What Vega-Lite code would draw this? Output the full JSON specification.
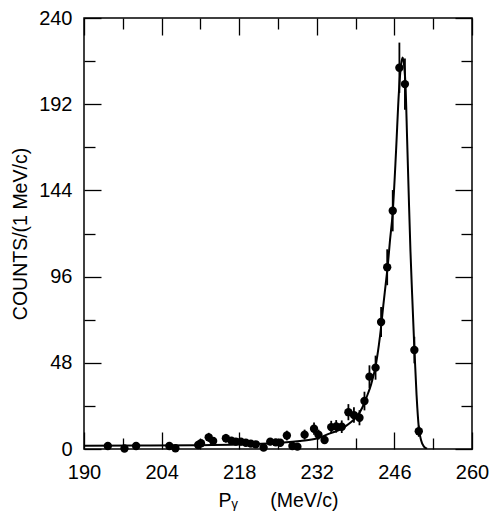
{
  "$schema": "https://vega.github.io/schema/vega-lite/v6.json",
  "width": 388,
  "height": 431,
  "autosize": {"type": "none"},
  "padding": {"left": 84, "top": 18, "right": 23, "bottom": 67},
  "background": "white",
  "config": {
    "view": {"stroke": "#000", "strokeWidth": 1.5},
    "font": "Liberation Sans",
    "axis": {
      "domain": false, "grid": false, "tickColor": "#000", "tickWidth": 1.3,
      "labelColor": "#000", "titleColor": "#000", "labelFont": "Liberation Sans",
      "titleFont": "Liberation Sans", "labelFontSize": 20, "titleFontSize": 19.5,
      "titleFontWeight": "normal"
    }
  },
  "datasets": {
    "pts": [
      {"p": 194.3, "n": 1.7, "err": 1.3}, {"p": 197.3, "n": 0.3, "err": 0.6},
      {"p": 199.4, "n": 1.7, "err": 1.3}, {"p": 205.4, "n": 1.7, "err": 1.3},
      {"p": 206.5, "n": 0.4, "err": 0.6}, {"p": 210.6, "n": 2.2, "err": 1.5},
      {"p": 211.1, "n": 3.2, "err": 1.8}, {"p": 212.5, "n": 6.5, "err": 2.5},
      {"p": 213.3, "n": 4.5, "err": 2.1}, {"p": 215.6, "n": 6.0, "err": 2.4},
      {"p": 216.6, "n": 4.6, "err": 2.1}, {"p": 217.4, "n": 4.1, "err": 2.0},
      {"p": 218.3, "n": 4.1, "err": 2.0}, {"p": 219.2, "n": 3.5, "err": 1.9},
      {"p": 220.1, "n": 3.0, "err": 1.7}, {"p": 221.0, "n": 2.6, "err": 1.6},
      {"p": 222.4, "n": 0.8, "err": 0.9}, {"p": 223.6, "n": 4.1, "err": 2.0},
      {"p": 224.6, "n": 3.7, "err": 1.9}, {"p": 225.4, "n": 3.5, "err": 1.9},
      {"p": 226.6, "n": 7.5, "err": 2.7}, {"p": 227.6, "n": 1.7, "err": 1.3},
      {"p": 228.5, "n": 1.3, "err": 1.1}, {"p": 229.8, "n": 8.0, "err": 2.8},
      {"p": 231.5, "n": 11.3, "err": 3.4}, {"p": 232.3, "n": 8.0, "err": 2.8},
      {"p": 233.4, "n": 5.0, "err": 2.2}, {"p": 234.6, "n": 12.2, "err": 3.5},
      {"p": 235.5, "n": 12.6, "err": 3.5}, {"p": 236.5, "n": 12.4, "err": 3.5},
      {"p": 237.7, "n": 20.5, "err": 4.5}, {"p": 238.7, "n": 18.9, "err": 4.3},
      {"p": 239.7, "n": 17.4, "err": 4.2}, {"p": 240.6, "n": 26.7, "err": 5.2},
      {"p": 241.5, "n": 40.3, "err": 6.3}, {"p": 242.6, "n": 45.3, "err": 6.7},
      {"p": 243.6, "n": 70.7, "err": 8.4}, {"p": 244.7, "n": 101.2, "err": 10.0},
      {"p": 245.7, "n": 132.7, "err": 11.5}, {"p": 246.9, "n": 212.3, "err": 14.0},
      {"p": 247.9, "n": 203.2, "err": 14.3}, {"p": 249.6, "n": 55.1, "err": 7.4},
      {"p": 250.4, "n": 9.9, "err": 3.1}
    ],
    "fit": [
      {"p": 190, "n": 1.8}, {"p": 200, "n": 1.9}, {"p": 210, "n": 2.1},
      {"p": 218, "n": 2.5}, {"p": 222, "n": 2.9}, {"p": 226, "n": 3.6},
      {"p": 229, "n": 4.5}, {"p": 232, "n": 5.8}, {"p": 234.4, "n": 8.7},
      {"p": 236, "n": 10.5}, {"p": 237.1, "n": 12.5}, {"p": 238.2, "n": 15},
      {"p": 239.2, "n": 18}, {"p": 240.2, "n": 23}, {"p": 241, "n": 29},
      {"p": 241.8, "n": 36}, {"p": 242.6, "n": 46}, {"p": 243.2, "n": 58},
      {"p": 243.6, "n": 68}, {"p": 244, "n": 80}, {"p": 244.4, "n": 91},
      {"p": 244.8, "n": 102}, {"p": 245.2, "n": 116}, {"p": 245.7, "n": 132},
      {"p": 246.3, "n": 166}, {"p": 246.8, "n": 198}, {"p": 247.2, "n": 214},
      {"p": 247.5, "n": 218}, {"p": 247.8, "n": 212}, {"p": 248.0, "n": 203},
      {"p": 248.3, "n": 172}, {"p": 248.6, "n": 140}, {"p": 248.9, "n": 110},
      {"p": 249.2, "n": 86}, {"p": 249.6, "n": 56}, {"p": 250.0, "n": 30},
      {"p": 250.4, "n": 12}, {"p": 250.8, "n": 5}, {"p": 251.3, "n": 1.5},
      {"p": 251.9, "n": 0.2}
    ]
  },
  "layer": [
    {
      "data": {"name": "fit"},
      "mark": {"type": "line", "color": "#000", "strokeWidth": 2, "interpolate": "monotone", "clip": true},
      "encoding": {
        "x": {"field": "p", "type": "quantitative", "scale": {"domain": [190, 260], "nice": false, "zero": false},
          "axis": {"orient": "bottom", "values": [190, 204, 218, 232, 246, 260], "ticks": false, "labelPadding": 13, "labelFlush": false, "title": "P\u1d67\u00a0\u00a0\u00a0\u00a0\u00a0\u00a0(MeV/c)", "titlePadding": 9}},
        "y": {"field": "n", "type": "quantitative", "scale": {"domain": [0, 240], "nice": false},
          "axis": {"orient": "left", "values": [0, 48, 96, 144, 192, 240], "ticks": false, "labelPadding": 12, "labelFlush": false, "title": "COUNTS/(1 MeV/c)", "titlePadding": 8}}
      }
    },
    {
      "data": {"name": "pts"},
      "mark": {"type": "errorbar", "color": "#000", "thickness": 1.8},
      "encoding": {
        "x": {"field": "p", "type": "quantitative",
          "axis": {"orient": "bottom", "values": [190, 204, 218, 232, 246, 260], "tickSize": -17, "labels": false, "title": null}},
        "y": {"field": "n", "type": "quantitative",
          "axis": {"orient": "left", "values": [0, 48, 96, 144, 192, 240], "tickSize": -17, "labels": false, "title": null}},
        "yError": {"field": "err"}
      }
    },
    {
      "data": {"name": "pts"},
      "mark": {"type": "point", "filled": true, "color": "#000", "opacity": 1, "size": 70},
      "encoding": {
        "x": {"field": "p", "type": "quantitative",
          "axis": {"orient": "bottom", "values": [197, 211, 225, 239, 253], "tickSize": -11, "labels": false, "title": null}},
        "y": {"field": "n", "type": "quantitative",
          "axis": {"orient": "left", "values": [24, 72, 120, 168, 216], "tickSize": -11, "labels": false, "title": null}}
      }
    },
    {
      "data": {"name": "pts"},
      "mark": {"type": "point", "filled": true, "opacity": 0},
      "encoding": {
        "x": {"field": "p", "type": "quantitative",
          "axis": {"orient": "top", "values": [190, 204, 218, 232, 246, 260], "tickSize": -17, "labels": false, "title": null}},
        "y": {"field": "n", "type": "quantitative",
          "axis": {"orient": "right", "values": [0, 48, 96, 144, 192, 240], "tickSize": -17, "labels": false, "title": null}}
      }
    },
    {
      "data": {"name": "pts"},
      "mark": {"type": "point", "filled": true, "opacity": 0},
      "encoding": {
        "x": {"field": "p", "type": "quantitative",
          "axis": {"orient": "top", "values": [197, 211, 225, 239, 253], "tickSize": -11, "labels": false, "title": null}},
        "y": {"field": "n", "type": "quantitative",
          "axis": {"orient": "right", "values": [24, 72, 120, 168, 216], "tickSize": -11, "labels": false, "title": null}}
      }
    }
  ],
  "resolve": {"axis": {"x": "independent", "y": "independent"}}
}
